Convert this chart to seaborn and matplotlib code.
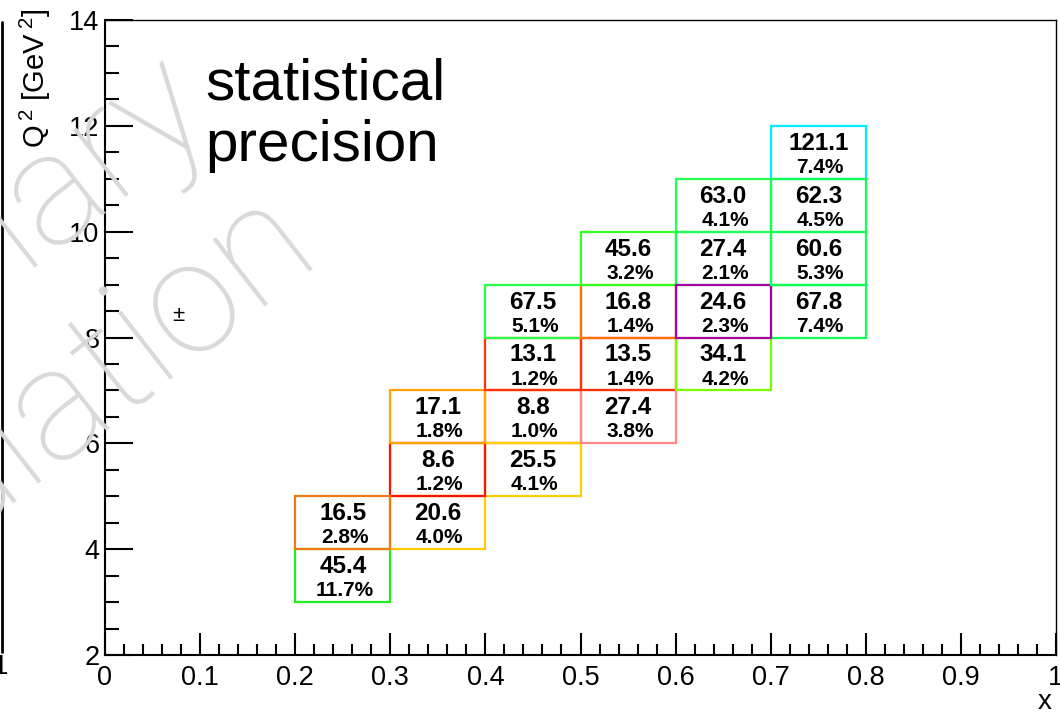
import matplotlib
matplotlib.use("Agg")
import matplotlib.pyplot as plt
from matplotlib import font_manager
from matplotlib.patches import Rectangle
from matplotlib.lines import Line2D
import numpy as np
import seaborn as sns

# ---- bin contents: lower edges in x and Q^2, events and statistical precision ----
x_low = [0.2, 0.3, 0.4, 0.4, 0.3, 0.3, 0.2, 0.5, 0.4, 0.5, 0.4, 0.5, 0.5, 0.6,
         0.6, 0.7, 0.6, 0.6, 0.7, 0.7, 0.7]
q2_low = [3, 4, 6, 5, 5, 6, 4, 6, 7, 7, 8, 8, 9, 7,
          9, 8, 8, 10, 9, 11, 10]
counts = [45.4, 20.6, 8.8, 25.5, 8.6, 17.1, 16.5, 27.4, 13.1, 13.5, 67.5, 16.8, 45.6, 34.1,
          27.4, 67.8, 24.6, 63.0, 60.6, 121.1, 62.3]
precision = [11.7, 4.0, 1.0, 4.1, 1.2, 1.8, 2.8, 3.8, 1.2, 1.4, 5.1, 1.4, 3.2, 4.2,
             2.1, 7.4, 2.3, 4.1, 5.3, 7.4, 4.5]
box_colors = ['#20f020', '#ffcc00', '#ff3800', '#ffd000', '#ff1100', '#ffa200', '#f07a10',
              '#ff8888', '#ff3300', '#ff3300', '#22ff44', '#ff7000', '#33ff22', '#77ff00',
              '#11ff55', '#11ff55', '#aa00aa', '#22ff55', '#11ff55', '#00eeff', '#11ff55']

x_ticks = np.round(np.arange(0, 1.0001, 0.1), 1)
x_ticklabels = ['0', '0.1', '0.2', '0.3', '0.4', '0.5', '0.6', '0.7', '0.8', '0.9', '1']
y_ticks = [2, 4, 6, 8, 10, 12, 14]
y_ticklabels = ['2', '4', '6', '8', '10', '12', '14']
bin_w, bin_h = 0.1, 1.0

sns.set_theme(style="white")
installed = {f.name for f in font_manager.fontManager.ttflist}
base_font = 'Liberation Sans'
narrow_font = 'Liberation Sans Narrow' if 'Liberation Sans Narrow' in installed else base_font
mark_font = 'Roboto' if 'Roboto' in installed else 'DejaVu Sans'
plt.rcParams['font.family'] = [base_font, 'DejaVu Sans']
plt.rcParams['mathtext.fontset'] = 'custom'
plt.rcParams['mathtext.rm'] = base_font
plt.rcParams['mathtext.it'] = base_font + ':italic'
for key in ('text.color', 'axes.labelcolor', 'xtick.color', 'ytick.color'):
    plt.rcParams[key] = 'black'

W, H = 1060, 716
fig = plt.figure(figsize=(W / 100, H / 100), dpi=100)
fig.patch.set_facecolor('white')
ax = fig.add_axes([105 / W, 1 - 655 / H, 951 / W, 635 / H])
ax.set_facecolor('white')

ax.set_xlim(0, 1)
ax.set_ylim(2, 14)
ax.set_xticks(x_ticks)
ax.set_xticklabels(x_ticklabels)
ax.set_xticks(np.arange(0, 1.0001, 0.02), minor=True)
ax.set_yticks(y_ticks)
ax.set_yticklabels(y_ticklabels)
ax.set_yticks(np.arange(2, 14.001, 0.5), minor=True)

ax.tick_params(axis='both', which='both', direction='in', color='black', width=1.5,
               bottom=True, left=True, top=False, right=False)
ax.tick_params(axis='y', which='major', length=20, pad=4, labelsize=19.5)
ax.tick_params(axis='y', which='minor', length=10)
ax.tick_params(axis='x', which='major', length=16, pad=7, labelsize=19.5)
ax.tick_params(axis='x', which='minor', length=8)
for side, sp in ax.spines.items():
    sp.set_color('black')
    sp.set_linewidth(1.5 if side in ('left', 'bottom') else 1.0)

ax.set_xlabel('x', fontsize=20, loc='right')
ax.xaxis.set_label_coords(0.995, -0.054)
ax.set_ylabel(r'Q$^{\;2}$ [GeV$^{\;2}$]', fontsize=21, loc='top')
ax.yaxis.set_label_coords(-0.055, 1.018)

# ---- bins: outlined boxes with event counts and precision ----
for xl, ql, n, p, c in zip(x_low, q2_low, counts, precision, box_colors):
    ax.add_patch(Rectangle((xl, ql), bin_w, bin_h, fill=False, edgecolor=c,
                           linewidth=1.6, zorder=2))
    ax.text(xl + bin_w / 2, ql + 0.67 * bin_h, f'{n:.1f}', ha='center', va='center',
            fontsize=17.5, fontweight='bold', family=narrow_font, color='black', zorder=3)
    ax.text(xl + bin_w / 2 + 0.002, ql + 0.215 * bin_h, f'{p:.1f}%', ha='center',
            va='center', fontsize=15, fontweight='bold', color='black', zorder=3)

ax.text(0.077, 8.41, '±', ha='center', va='center', fontsize=16, color='black')

fig.text(205 / W, 1 - 99 / H, 'statistical', fontsize=42, va='baseline', ha='left',
         color='black')
fig.text(205 / W, 1 - 161 / H, 'precision', fontsize=42, va='baseline', ha='left',
         color='black')

# frame and label of the neighbouring pad
fig.add_artist(Line2D([1.5 / W, 1.5 / W], [1 - 22 / H, 1 - 652 / H],
                      transform=fig.transFigure, color='black', lw=2, zorder=4))
fig.text(1 / W, 1 - 654 / H, '1', fontsize=20, ha='center', va='top', zorder=4)

# watermark
fig.text(215 / W, 1 - 115 / H, 'Preliminary', fontsize=115, family=mark_font,
         fontweight=200, color='#d9d9d9', rotation=38, rotation_mode='anchor',
         ha='right', va='baseline', zorder=10)
fig.text(322 / W, 1 - 256 / H, 'Simulation', fontsize=115, family=mark_font,
         fontweight=200, color='#d9d9d9', rotation=38, rotation_mode='anchor',
         ha='right', va='baseline', zorder=10)

fig.savefig('out.png', dpi=100, facecolor='white')
